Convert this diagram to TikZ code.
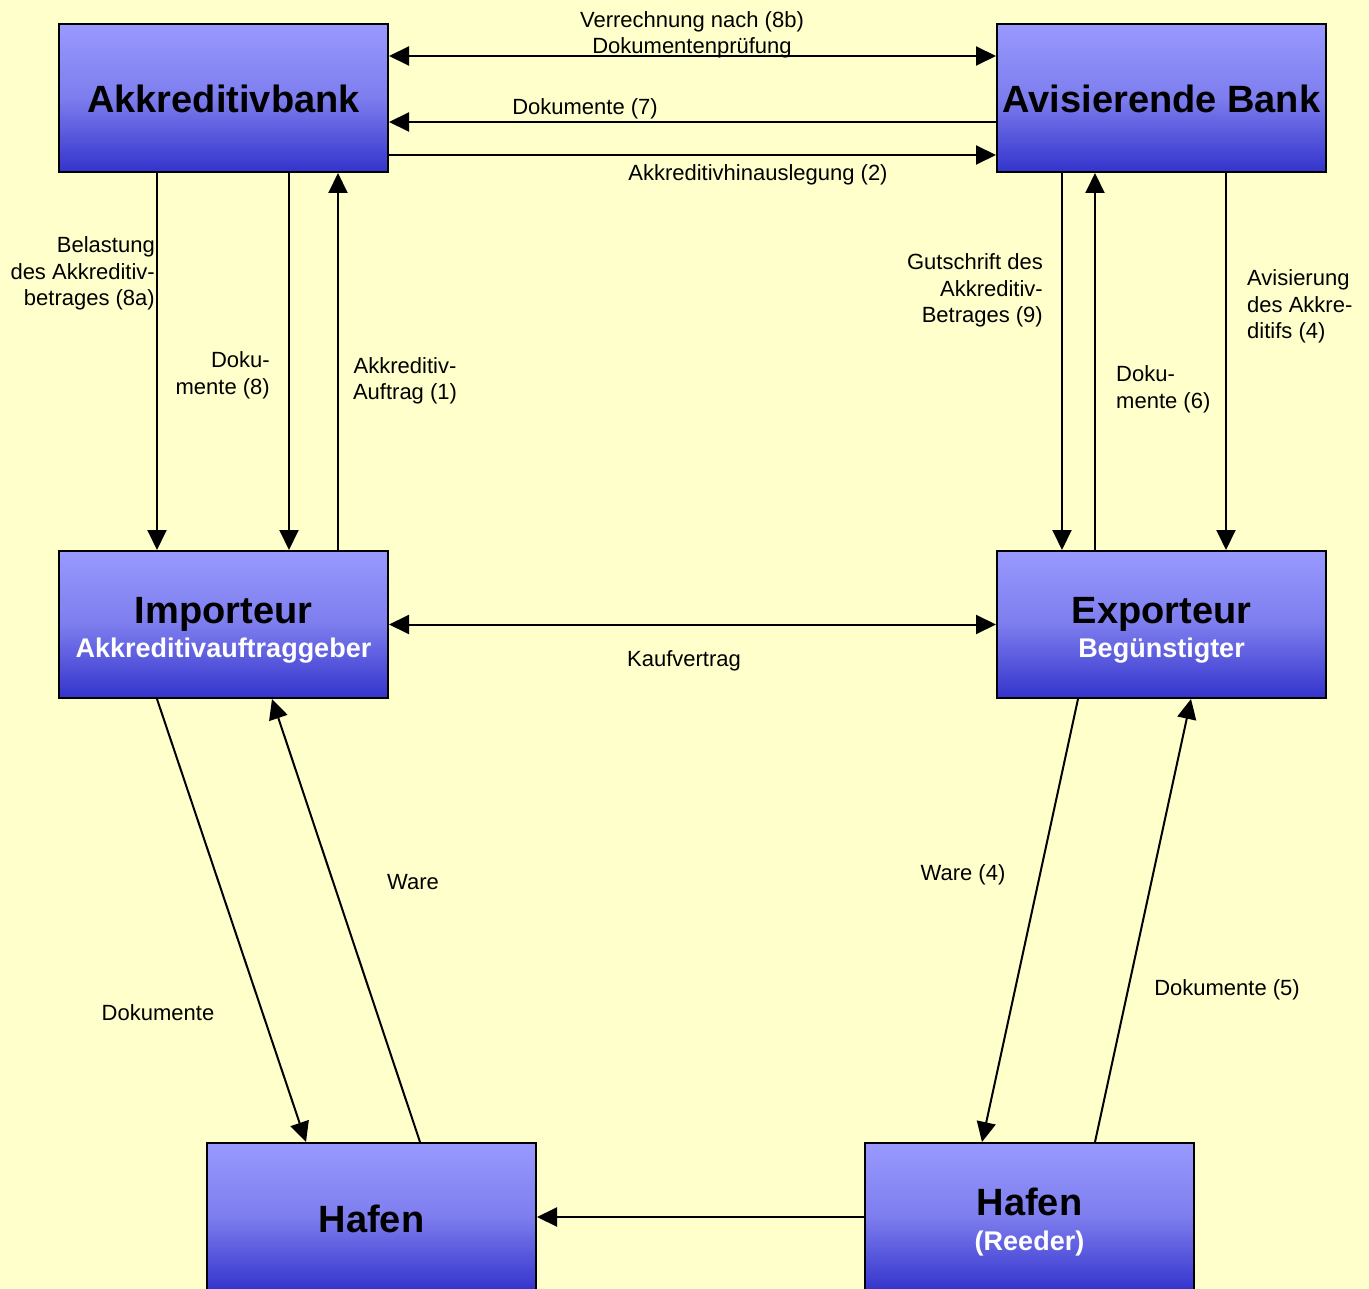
\documentclass[tikz,border=0pt]{standalone}
\usepackage{fontspec}
\setmainfont{Liberation Sans}
\usetikzlibrary{arrows.meta}
\definecolor{bgyellow}{RGB}{255,255,204}
\definecolor{boxtop}{RGB}{153,153,255}
\definecolor{boxmid}{RGB}{125,125,238}
\definecolor{boxbot}{RGB}{51,51,204}
\tikzset{
  box/.style={draw=black, line width=2pt, minimum width=329pt, minimum height=148pt, inner sep=0pt,
    top color=boxtop, bottom color=boxbot, middle color=boxmid},
  ttl/.style={font=\fontsize{38}{42}\selectfont\bfseries, text=black, inner sep=0pt, anchor=base},
  sub/.style={font=\fontsize{27}{30}\selectfont\bfseries, text=white, inner sep=0pt, anchor=base},
  lbl/.style={font=\fontsize{22}{26.5}\selectfont, inner sep=0pt, text=black},
  conn/.style={line width=2pt, draw=black},
  tip/.style={-{Triangle[length=20pt,width=19pt]}},
  tips/.style={{Triangle[length=20pt,width=19pt]}-{Triangle[length=20pt,width=19pt]}}
}
\begin{document}
\begin{tikzpicture}[x=1pt,y=-1pt]
\fill[bgyellow] (0,0) rectangle (1369,1289);
\clip (0,0) rectangle (1369,1289);

% boxes
\node[box] (bankA) at (223.5,98) {};
\node[box] (bankB) at (1161.5,98) {};
\node[box, minimum height=147pt] (imp) at (223.5,624.5) {};
\node[box, minimum height=147pt] (exp) at (1161.5,624.5) {};
\node[box] (hafL) at (371.5,1217) {};
\node[box] (hafR) at (1029.5,1217) {};

% box texts
\node[ttl] (bankAt) at (223.5,113) {Akkreditivbank};
\node[ttl] (bankBt) at (1161.5,113) {Avisierende Bank};
\node[ttl] (impt) at (223.5,623) {Importeur};
\node[sub] (imps) at (223.5,657) {Akkreditivauftraggeber};
\node[ttl] (expt) at (1161.5,623) {Exporteur};
\node[sub] (exps) at (1161.5,657) {Begünstigter};
\node[ttl] (hafLt) at (371.5,1232) {Hafen};
\node[ttl] (hafRt) at (1029.5,1215) {Hafen};
\node[sub] (hafRs) at (1029.5,1250) {(Reeder)};

% top connectors
\draw[conn,tips] ([yshift=-33pt]bankA.north east) -- ([yshift=-33pt]bankB.north west);
\draw[conn,tip] ([yshift=-99pt]bankB.north west) -- ([yshift=-99pt]bankA.north east);
\draw[conn,tip] ([yshift=-132pt]bankA.north east) -- ([yshift=-132pt]bankB.north west);

% left verticals
\draw[conn,tip] ([xshift=99pt]bankA.south west) -- ([xshift=99pt]imp.north west);
\draw[conn,tip] ([xshift=231pt]bankA.south west) -- ([xshift=231pt]imp.north west);
\draw[conn,tip] ([xshift=280pt]imp.north west) -- ([xshift=280pt]bankA.south west);

% right verticals
\draw[conn,tip] ([xshift=66pt]bankB.south west) -- ([xshift=66pt]exp.north west);
\draw[conn,tip] ([xshift=99pt]exp.north west) -- ([xshift=99pt]bankB.south west);
\draw[conn,tip] ([xshift=230pt]bankB.south west) -- ([xshift=230pt]exp.north west);

% Kaufvertrag
\draw[conn,tips] (imp.east) -- (exp.east -| exp.west);

% diagonals
\draw[conn,tip] ([xshift=99pt]imp.south west) -- ([xshift=100pt]hafL.north west);
\draw[conn,tip] ([xshift=214pt]hafL.north west) -- ([xshift=214pt]imp.south west);
\draw[conn,tip] ([xshift=82pt]exp.south west) -- ([xshift=118pt]hafR.north west);
\draw[conn,tip] ([xshift=231pt]hafR.north west) -- ([xshift=195pt]exp.south west);

% bottom horizontal
\draw[conn,tip] (hafR.west) -- (hafL.east);

% labels (base anchor = baseline of the last line)
\node[lbl, align=center, anchor=base] (l8b) at (692,54) {Verrechnung nach (8b)\\Dokumentenprüfung};
\node[lbl, anchor=base] (l7) at (585,115) {Dokumente (7)};
\node[lbl, anchor=base] (l2) at (758,181) {Akkreditivhinauslegung (2)};
\node[lbl, align=right, anchor=base east] (l8a) at (155,306) {Belastung\\des Akkreditiv-\\betrages (8a)};
\node[lbl, align=right, anchor=base east] (l8) at (270,394.5) {Doku-\\mente (8)};
\node[lbl, align=center, anchor=base] (l1) at (405,399.5) {Akkreditiv-\\Auftrag (1)};
\node[lbl, align=right, anchor=base east] (l9) at (1043,323) {Gutschrift des\\Akkreditiv-\\Betrages (9)};
\node[lbl, align=left, anchor=base west] (l6) at (1116,408.5) {Doku-\\mente (6)};
\node[lbl, align=left, anchor=base west] (l4) at (1247,339) {Avisierung\\des Akkre-\\ditifs (4)};
\node[lbl, anchor=base] (lk) at (684,666) {Kaufvertrag};
\node[lbl, anchor=base] (lw) at (413,889) {Ware};
\node[lbl, anchor=base] (ld) at (158,1020) {Dokumente};
\node[lbl, anchor=base] (lw4) at (963,880) {Ware (4)};
\node[lbl, anchor=base] (ld5) at (1227,995) {Dokumente (5)};
\end{tikzpicture}
\end{document}
